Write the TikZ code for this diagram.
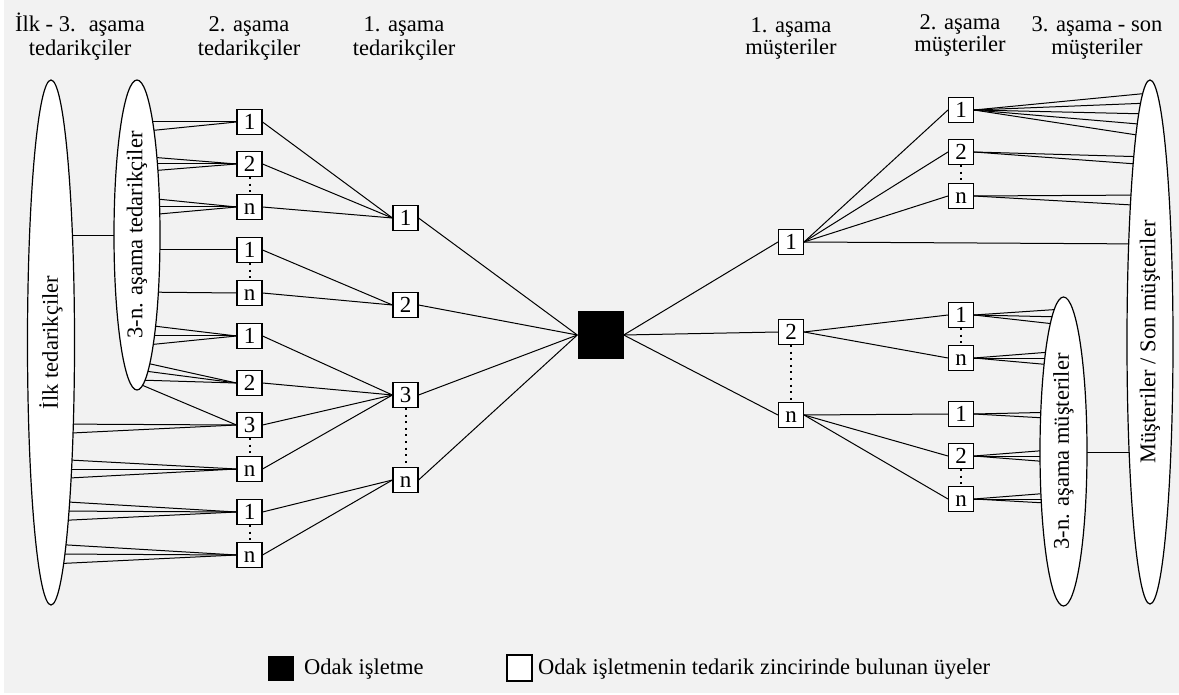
\documentclass[tikz,border=0pt]{standalone}
\usepackage{fontspec}
\setmainfont{Liberation Serif}
\usetikzlibrary{calc,shapes.geometric}
\pgfdeclarelayer{back}
\pgfdeclarelayer{wires}
\pgfsetlayers{back,wires,main}
\definecolor{paper}{HTML}{F2F2F2}

\tikzset{
  txt/.style={font=\fontsize{22.5pt}{26pt}\selectfont, inner sep=0pt},
  member/.style={draw, fill=white, line width=1.1pt, minimum width=25pt,
    minimum height=25pt, inner sep=0pt, text height=15pt, text depth=0pt,
    font=\fontsize{23pt}{26pt}\selectfont},
  focalbox/.style={fill=black, inner sep=0pt},
  tier/.style={ellipse, draw, fill=white, line width=1.2pt, inner sep=0pt,
    rotate=90, font=\fontsize{22.5pt}{26pt}\selectfont},
  link/.style={line width=1pt},
  gap/.style={line width=2pt, dash pattern=on 2pt off 4.6pt}
}

\begin{document}
\begin{tikzpicture}[x=1pt, y=-1pt]
\useasboundingbox (0,0) rectangle (1179,695);
\begin{pgfonlayer}{back}
  \fill[paper] (4,0) rectangle (1179,693);
\end{pgfonlayer}

% column headings
\node[txt, anchor=base] (h1a) at (80,32) {İlk - 3.~ aşama};
\node[txt, anchor=base] (h1b) at (80,56) {tedarikçiler};
\node[txt, anchor=base] (h2a) at (249,32) {2. aşama};
\node[txt, anchor=base] (h2b) at (249,56) {tedarikçiler};
\node[txt, anchor=base] (h3a) at (404,32) {1. aşama};
\node[txt, anchor=base] (h3b) at (404,56) {tedarikçiler};
\node[txt, anchor=base] (h4a) at (791,33) {1. aşama};
\node[txt, anchor=base] (h4b) at (791,55) {müşteriler};
\node[txt, anchor=base] (h5a) at (960,30) {2. aşama};
\node[txt, anchor=base] (h5b) at (960,52) {müşteriler};
\node[txt, anchor=base] (h6a) at (1097,32) {3. aşama - son};
\node[txt, anchor=base] (h6b) at (1097,55) {müşteriler};

% supplier and customer groups
\node[tier, minimum width=525pt, minimum height=47pt] (ilk) at (51,342.5) {İlk tedarikçiler};
\node[tier, minimum width=310pt, minimum height=46pt] (sup3) at (137,235) {3-n. aşama tedarikçiler};
\node[tier, minimum width=524pt, minimum height=46pt] (son) at (1150,342) {Müşteriler / Son müşteriler};
\node[tier, minimum width=309pt, minimum height=47pt] (cus3) at (1063.5,451.5) {3-n. aşama müşteriler};

% second-tier suppliers
\node[member] (a1) at (249.5,122) {1};
\node[member] (a2) at (249.5,164) {2};
\node[member] (a3) at (249.5,207) {n};
\node[member] (a4) at (249.5,250) {1};
\node[member] (a5) at (249.5,293) {n};
\node[member] (a6) at (249.5,336) {1};
\node[member] (a7) at (249.5,383) {2};
\node[member] (a8) at (249.5,425) {3};
\node[member] (a9) at (249.5,469) {n};
\node[member] (a10) at (249.5,512) {1};
\node[member] (a11) at (249.5,555) {n};

% first-tier suppliers
\node[member] (b1) at (405.5,218) {1};
\node[member] (b2) at (405.5,305) {2};
\node[member] (b3) at (405.5,395) {3};
\node[member] (b4) at (405.5,480) {n};

% focal company
\node[focalbox, minimum width=46pt, minimum height=48pt] (f) at (600.5,335) {};

% first-tier customers
\node[member] (c1) at (791,242) {1};
\node[member] (c2) at (791,332) {2};
\node[member] (c3) at (791,415) {n};

% second-tier customers
\node[member] (d1) at (961,110) {1};
\node[member] (d2) at (961,152) {2};
\node[member] (d3) at (961,196) {n};
\node[member] (d4) at (961,315) {1};
\node[member] (d5) at (961,358) {n};
\node[member] (d6) at (961,414) {1};
\node[member] (d7) at (961,456) {2};
\node[member] (d8) at (961,499) {n};

% legend
\node[focalbox, minimum width=26pt, minimum height=25pt] (kf) at (281,668) {};
\node[txt, anchor=base west] (kft) at (304,674) {Odak işletme};
\node[member, minimum width=25pt, minimum height=26pt] (km) at (519.5,668) {};
\node[txt, anchor=base west] (kmt) at (538,674) {Odak işletmenin tedarik zincirinde bulunan üyeler};

\begin{pgfonlayer}{wires}
  % links between the groups (hidden inside the white ellipses)
  \draw[link] (ilk.center |- 0,236) -- (sup3.center |- 0,236);
  \draw[link] (cus3.center |- 0,452) -- (son.center |- 0,452);

  % supplier side
  \foreach \y/\b in {122/a1,132/a1,156/a2,164/a2,172/a2,197/a3,207/a3,216/a3,
      250/a4,292/a5,324/a6,336/a6,346/a6,361/a7,370/a7,380/a7,383/a8}
    \draw[link] (sup3.center |- 0,\y) -- (\b.west);
  \foreach \y/\b in {424/a8,434/a8,459/a9,469/a9,479/a9,501/a10,511/a10,521/a10,
      544/a11,554/a11,564/a11}
    \draw[link] (ilk.center |- 0,\y) -- (\b.west);
  \foreach \s in {a1,a2,a3} \draw[link] (\s.east) -- (b1.west);
  \foreach \s in {a4,a5} \draw[link] (\s.east) -- (b2.west);
  \foreach \s in {a6,a7,a8,a9} \draw[link] (\s.east) -- (b3.west);
  \foreach \s in {a10,a11} \draw[link] (\s.east) -- (b4.west);
  \foreach \s in {b1,b2,b3,b4} \draw[link] (\s.east) -- (f.west);

  % customer side
  \foreach \t in {c1,c2,c3} \draw[link] (f.east) -- (\t.west);
  \foreach \t in {d1,d2,d3} \draw[link] (c1.east) -- (\t.west);
  \draw[link] (c1.east) -- (son.center |- 0,244);
  \foreach \t in {d4,d5} \draw[link] (c2.east) -- (\t.west);
  \foreach \t in {d6,d7,d8} \draw[link] (c3.east) -- (\t.west);
  \foreach \y/\b in {93/d1,103/d1,114/d1,125/d1,137/d1,157/d2,165/d2,195/d3,206/d3}
    \draw[link] (\b.east) -- (son.center |- 0,\y);
  \foreach \y/\b in {309/d4,317/d4,325/d4,351/d5,358/d5,366/d5,412/d6,419/d6,
      449/d7,456/d7,463/d7,492/d8,499/d8,504/d8}
    \draw[link] (\b.east) -- (cus3.center |- 0,\y);
\end{pgfonlayer}

% omitted members
\foreach \u/\v in {a2/a3,a4/a5,a8/a9,a10/a11,b3/b4,c2/c3,d2/d3,d4/d5,d7/d8}
  \draw[gap] (\u.south) -- (\v.north);
\end{tikzpicture}
\end{document}
